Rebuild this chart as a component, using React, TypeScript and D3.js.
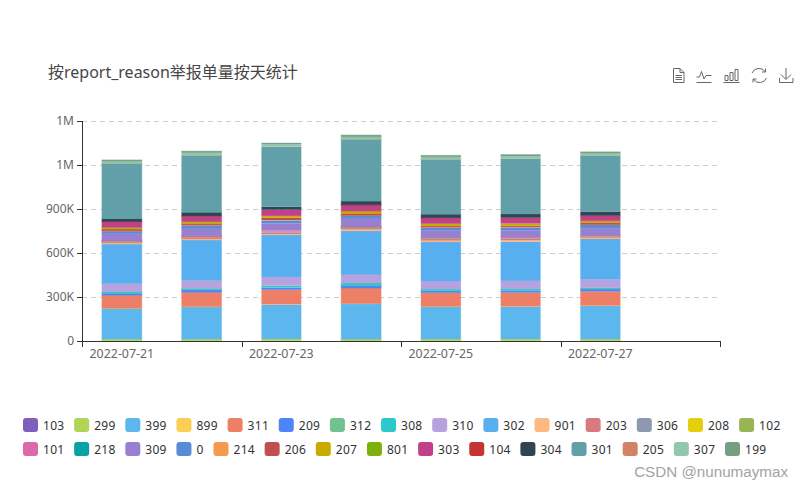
import React from "react";
import { scaleBand, scaleLinear, stack } from "d3";

const dates = [
  "2022-07-21",
  "2022-07-22",
  "2022-07-23",
  "2022-07-24",
  "2022-07-25",
  "2022-07-26",
  "2022-07-27",
  "2022-07-28",
];

const seriesNames = [
  "103", "299", "399", "899", "311", "209", "312", "308", "310", "302",
  "901", "203", "306", "208", "102", "101", "218", "309", "0", "214",
  "206", "207", "801", "303", "104", "304", "301", "205", "307", "199",
];

const seriesColors = [
  "#7E5FBE", "#B0D455", "#5CB7EE", "#FCCE54", "#EE7F67", "#4D84F7", "#70C28F", "#2CC9CA", "#B6A2DE", "#58AFF0",
  "#FFB980", "#D87A80", "#8D98B3", "#E5CF0D", "#97B552", "#DC69AA", "#07A2A4", "#9A7FD1", "#588DD5", "#F5994E",
  "#C05050", "#C9AB00", "#7EB00A", "#C14089", "#C23531", "#2F4554", "#61A0A8", "#D48265", "#91C7AE", "#749F83",
];

// thousands per day, same order as seriesNames
const seriesValues = [
  [1, 1, 1.5, 1.5, 1, 1, 1],
  [12, 12, 12, 12, 12, 12, 12],
  [209, 220, 234, 241, 220, 221, 227],
  [2, 2, 2, 2, 2, 2, 2],
  [88, 97, 100, 105, 94, 94, 97],
  [13, 17, 15, 16, 12, 12, 15],
  [1, 1, 1, 1, 1, 1, 1],
  [11, 9, 11, 17, 12, 12, 8],
  [56, 55, 60, 59, 55, 55, 58],
  [268, 275, 286, 297, 266, 266, 275],
  [8, 8, 6, 12, 10, 10, 8],
  [5, 7, 12, 6, 10, 10, 8],
  [3, 3, 3, 4, 5, 5, 2],
  [0.5, 0.5, 0.5, 0.5, 0.5, 0.5, 0.5],
  [1, 1, 1, 1, 1, 1, 1],
  [9, 10, 6, 6, 6, 6, 6],
  [1, 1, 1, 1, 1, 1, 1],
  [45, 46, 50, 52, 45, 45, 44],
  [16, 23, 20, 21, 20, 20, 25],
  [2, 3, 3, 2, 3, 3, 1],
  [12, 10, 15, 13, 8, 8, 15],
  [11, 12, 12, 16, 15, 15, 11],
  [1, 1, 1, 1, 1, 1, 1],
  [38, 37, 41, 41, 38, 38, 34],
  [1, 1, 1, 1, 1, 1, 1],
  [20, 25, 20, 25, 25, 25, 27],
  [375, 386, 409, 420, 373, 377, 382],
  [1, 1, 1, 1, 1, 1, 1],
  [17, 21, 15, 18, 17, 17, 15],
  [7, 9, 11, 11, 11, 12, 11],
];

const yTicks = [0, 300000, 600000, 900000, 1200000, 1500000];

const title = "按report_reason举报单量按天统计";
const watermark = "CSDN @nunumaymax";

const width = 804;
const height = 489;
const left = 82;
const right = 720;
const top = 121;
const bottom = 341;

const font = "'Noto Sans', 'Noto Sans CJK SC', sans-serif";

// the pale halo round some of the bars
const edgeOpacity = [0.45, 0.4, 0, 0.5, 0.2, 0.05, 0.2];

// 1.2M and 1.5M both read 1M in the source chart
const formatTick = (v: number) =>
  v === 0 ? "0" : v >= 1e6 ? `${Math.floor(v / 1e6)}M` : `${v / 1e3}K`;

function ToolIcons() {
  const c = { fill: "none", stroke: "#666", strokeWidth: 1 };
  return (
    <g {...c}>
      {/* data view */}
      <path d="M673.5,68.5 h6.5 l4,4 v10 h-10.5 Z M680,68.5 v4 h4 M675.5,75.5 h6.5 M675.5,77.5 h6.5 M675.5,79.5 h6.5" />
      {/* line */}
      <path d="M696.5,82.5 h15 M696.5,77 h3 l2,-5.5 l2.5,7.5 l2,-3.5 h5.5" />
      {/* bar */}
      <path d="M723.5,82.5 h16 M725,80.5 v-5 h3 v5 Z M730,80.5 v-8 h3 v8 Z M735,80.5 v-11 h3 v11 Z" />
      {/* restore */}
      <path d="M752,73 a7.5,7.5 0 0 1 13,-1.5 M766.5,78 a7.5,7.5 0 0 1 -13,1.5 M765.5,68.5 v3.5 h-3.5 M753,82.5 v-3.5 h3.5" />
      {/* save */}
      <path d="M786,68 v11 M781,74.5 l5,5 l5,-5 M779.5,78 v4.5 h13.5 v-4.5" />
    </g>
  );
}

function Legend() {
  // two wrapped rows, each item icon + 5 gap + label + 10 gap
  const digit = 7.05;
  const rowLength = 15;
  return (
    <g>
      {seriesNames.map((name, i) => {
        const row = i < rowLength ? 0 : 1;
        const start = row === 0 ? 0 : rowLength;
        const x =
          23 +
          seriesNames
            .slice(start, i)
            .reduce((sum, n) => sum + 30 + n.length * digit, 0);
        const y = row === 0 ? 418 : 442;
        return (
          <g key={name}>
            <rect x={x} y={y} width={15} height={14} rx={3} fill={seriesColors[i]} />
            <text x={x + 20} y={y + 11.5} fontSize={12} fill="#333" textLength={name.length * digit}>
              {name}
            </text>
          </g>
        );
      })}
    </g>
  );
}

export default function App() {
  const x = scaleBand<string>()
    .domain(dates)
    .range([left, right])
    .paddingInner(0.5)
    .paddingOuter(0.25);
  const y = scaleLinear().domain([0, 1500000]).range([bottom, top]);

  const rows = seriesValues[0].map((_, day) => {
    const row: Record<string, number> = {};
    seriesNames.forEach((name, s) => {
      row[name] = seriesValues[s][day] * 1000;
    });
    return row;
  });
  const layers = stack<Record<string, number>>().keys(seriesNames)(rows);

  const tickX = (d: string) => x(d)! - x.step() * 0.25;

  return (
    <svg
      width={width}
      height={height}
      style={{ position: "absolute", left: 0, top: 0, fontFamily: font }}
    >
      <text x={48} y={78} fontSize={16} fill="#464646">
        {title}
      </text>
      <ToolIcons />

      {/* Grid lines */}
      {yTicks.slice(1).map((t) => (
        <line
          key={t}
          x1={left}
          x2={right}
          y1={y(t) + 0.5}
          y2={y(t) + 0.5}
          stroke="#ccc"
          strokeDasharray="5,4"
        />
      ))}

      {/* Stacked bars */}
      {layers.map((layer, s) =>
        layer.map((seg, day) => (
          <rect
            key={`${s}-${day}`}
            x={x(dates[day])}
            y={y(seg[1])}
            width={x.bandwidth()}
            height={y(seg[0]) - y(seg[1])}
            fill={seriesColors[s]}
            stroke={seriesColors[s]}
            strokeOpacity={edgeOpacity[day]}
          />
        )),
      )}

      {/* Y axis */}
      <path
        d={`M${left + 0.5},${top} V${bottom + 0.5}`}
        stroke="#333"
        fill="none"
      />
      {yTicks.map((t) => (
        <g key={t}>
          <line x1={left - 5} x2={left} y1={y(t) + 0.5} y2={y(t) + 0.5} stroke="#333" />
          <text
            x={left - 8}
            y={y(t) + 4}
            textAnchor="end"
            fontSize={12}
            fill="#666"
          >
            {formatTick(t)}
          </text>
        </g>
      ))}

      {/* X axis */}
      <line x1={left} x2={right + 1} y1={bottom + 0.5} y2={bottom + 0.5} stroke="#333" />
      {dates
        .filter((_, i) => i % 2 === 0)
        .map((d) => (
          <g key={d}>
            <line
              x1={Math.round(tickX(d)) + 0.5}
              x2={Math.round(tickX(d)) + 0.5}
              y1={bottom}
              y2={bottom + 6}
              stroke="#333"
            />
            <text
              x={x(d)! + x.bandwidth() / 2}
              y={358}
              textAnchor="middle"
              fontSize={12.4}
              fill="#666"
            >
              {d}
            </text>
          </g>
        ))}
      <line
        x1={right + 0.5}
        x2={right + 0.5}
        y1={bottom}
        y2={bottom + 6}
        stroke="#333"
      />

      <Legend />

      <text
        x={788}
        y={477}
        textAnchor="end"
        fontSize={15.2}
        fill="#a3a3a3"
        style={{ fontFamily: "'Liberation Sans', sans-serif" }}
      >
        {watermark}
      </text>
    </svg>
  );
}
